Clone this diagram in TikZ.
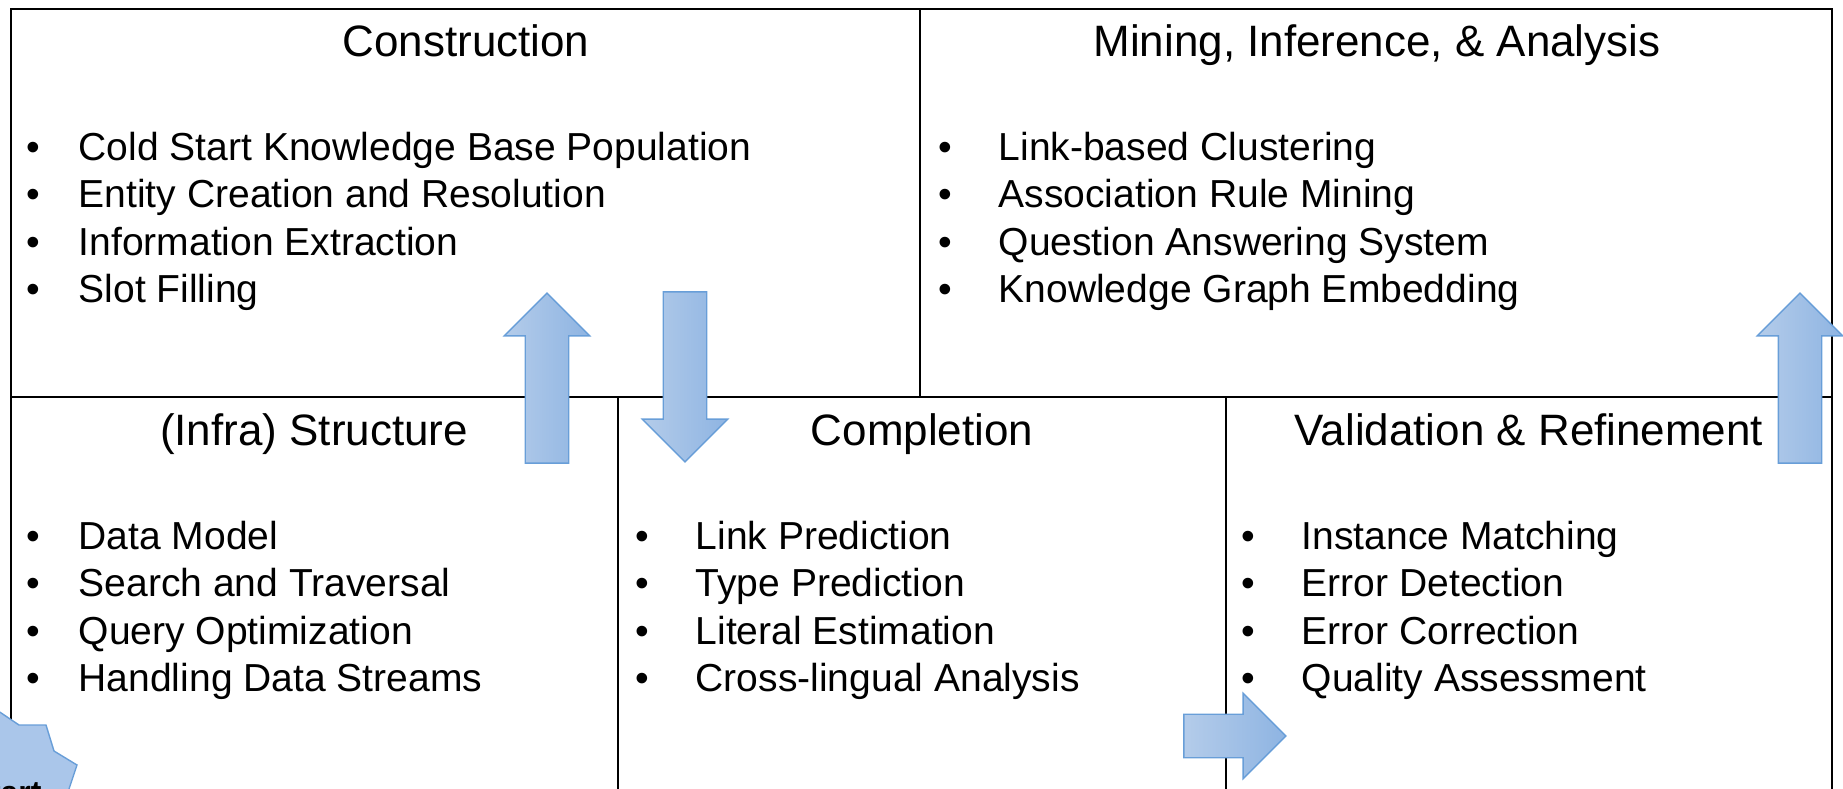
\documentclass[tikz,border=0pt]{standalone}
\usepackage{fontspec}
\setmainfont{Liberation Sans}
\usetikzlibrary{shapes.arrows}

\definecolor{arrowlight}{RGB}{180,204,234}
\definecolor{arrowdark}{RGB}{142,180,226}
\definecolor{arrowline}{RGB}{104,158,216}
\definecolor{startfill}{RGB}{170,198,234}

\tikzstyle{grid} = [draw=black, line width=0.6pt]
\tikzstyle{heading} = [anchor=base, inner sep=0pt, font=\fontsize{12.5}{15}\selectfont]
\tikzstyle{item} = [anchor=base west, inner sep=0pt, font=\fontsize{11.1}{13.5}\selectfont]
\tikzstyle{bigarrow} = [single arrow, draw=arrowline, line width=0.4pt, left color=arrowlight, right color=arrowdark, minimum height=1.7cm, inner xsep=0pt, inner ysep=0.21cm, single arrow head extend=0.21cm, single arrow tip angle=90]

% bullet sits in front of the text column
\newcommand{\bul}[2]{\llap{\textbullet\hspace{#1}}#2}

\begin{document}
\begin{tikzpicture}[x=0.01cm, y=-0.01cm]
\useasboundingbox (0,0) rectangle (1843,788);
\clip (0,0) rectangle (1843,788);

% frame and dividers
\draw [grid] (11,830) -- (11,9) -- (1832,9) -- (1832,830);
\draw [grid] (11,397) -- (1832,397);
\draw [grid] (920,9) -- (920,397);
\draw [grid] (618,397) -- (618,830);
\draw [grid] (1226,397) -- (1226,830);

% headings
\node (construction) [heading] at (466,57) {Construction};
\node (mining) [heading] at (1377,57) {Mining, Inference, \& Analysis};
\node (infra) [heading] at (314,445) {(Infra) Structure};
\node (completion) [heading] at (922,445) {Completion};
\node (validation) [heading] at (1529,445) {Validation \& Refinement};

% task lists
\foreach \txt [count=\i] in {Cold Start Knowledge Base Population, Entity Creation and Resolution, Information Extraction, Slot Filling}
  \node (con\i) [item] at (78,{160+(\i-1)*47.5}) {\bul{0.39cm}{\txt}};
\foreach \txt [count=\i] in {Link-based Clustering, Association Rule Mining, Question Answering System, Knowledge Graph Embedding}
  \node (min\i) [item] at (998,{160+(\i-1)*47.5}) {\bul{0.47cm}{\txt}};
\foreach \txt [count=\i] in {Data Model, Search and Traversal, Query Optimization, Handling Data Streams}
  \node (inf\i) [item] at (78,{549+(\i-1)*47.5}) {\bul{0.39cm}{\txt}};
\foreach \txt [count=\i] in {Link Prediction, Type Prediction, Literal Estimation, Cross-lingual Analysis}
  \node (com\i) [item] at (695,{549+(\i-1)*47.5}) {\bul{0.47cm}{\txt}};
\foreach \txt [count=\i] in {Instance Matching, Error Detection, Error Correction, Quality Assessment}
  \node (val\i) [item] at (1301,{549+(\i-1)*47.5}) {\bul{0.47cm}{\txt}};

% flow arrows
\node (up1) [bigarrow, rotate=90] at (547,389) {};
\node (down1) [bigarrow, rotate=-90] at (685,366) {};
\node (up2) [bigarrow, rotate=90] at (1800,389) {};
\node (right1) [bigarrow, minimum height=1.02cm] at (1224,736) {};

% start burst
\draw [fill=startfill, draw=arrowline, line width=0.4pt]
  (-30,692) -- (19,725) -- (46,725) -- (54,751) -- (77,765) -- (62,810) -- (-30,810) -- cycle;
\node (start) [anchor=base west, inner sep=0pt, font=\fontsize{9.1}{11}\selectfont\bfseries] at (-32,803) {Start};
\end{tikzpicture}
\end{document}
